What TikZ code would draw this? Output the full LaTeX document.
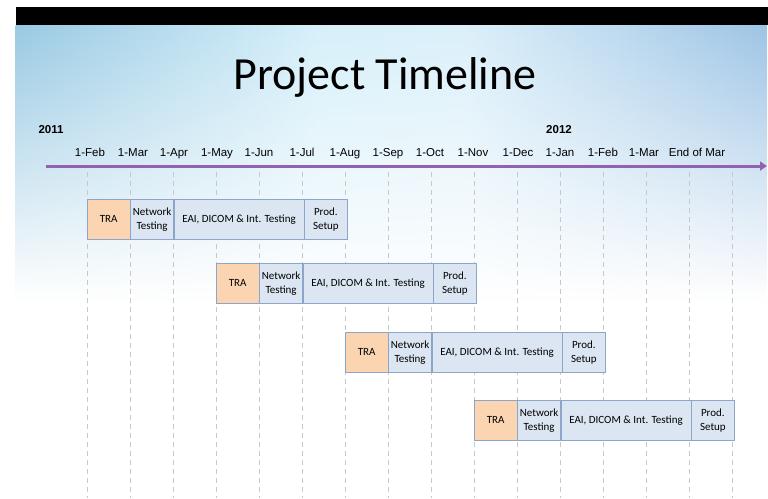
\documentclass[tikz,border=0pt]{standalone}
\usepackage{fontspec}
\setmainfont{Carlito}
\newfontfamily\arialfont{Liberation Sans}
\usepackage{tikz}
\usetikzlibrary{positioning, arrows.meta, fadings}

\definecolor{linepurple}{RGB}{146,98,178}
\definecolor{traorange}{RGB}{251,213,178}
\definecolor{phaseblue}{RGB}{220,230,242}
\definecolor{boxedge}{RGB}{140,165,200}
\definecolor{gridgray}{RGB}{200,200,200}

\pgfdeclarehorizontalshading{sky}{100bp}{
    rgb(0bp)=(0.40,0.62,0.78);
    rgb(25bp)=(0.60,0.79,0.89);
    rgb(45bp)=(0.84,0.94,0.98);
    rgb(55bp)=(0.86,0.94,0.98);
    rgb(75bp)=(0.62,0.77,0.90);
    rgb(100bp)=(0.40,0.54,0.79)}
\tikzfading[name=fade down, top color=transparent!0, middle color=transparent!25, bottom color=transparent!100]

\begin{document}
\begin{tikzpicture}[
    x=1pt, y=-1pt,
    month/.style={font=\arialfont\fontsize{11.5}{13}\selectfont, anchor=base, inner sep=0pt},
    year/.style={font=\arialfont\bfseries\fontsize{11.5}{13}\selectfont, anchor=base, inner sep=0pt},
    phase/.style={rectangle, draw=boxedge, fill=phaseblue, minimum height=40pt, inner sep=0pt,
                  align=center, font=\fontsize{11}{14}\selectfont},
    tra/.style={phase, fill=traorange, minimum width=43pt},
    short/.style={phase, minimum width=43pt},
    long/.style={phase, minimum width=130pt},
    grid line/.style={draw=gridgray, dashed, dash pattern=on 5pt off 4pt, line width=0.6pt},
    timeline/.style={-{Triangle[length=7pt, width=9pt]}, line width=3pt, draw=linepurple}
]
\useasboundingbox (0,0) rectangle (768,498);
\fill[white] (0,0) rectangle (768,498);

% backdrop
\shade[shading=sky, path fading=fade down] (16,25) rectangle (768,300);
\fill[black] (16,7) rectangle (768,25);

\node[font=\fontsize{46}{50}\selectfont, anchor=base] (title) at (385,89) {Project Timeline};

% month grid
\foreach \i in {0,...,15}
    \draw[grid line] (87+43*\i,172) -- (87+43*\i,498);

\node[year] (y2011) at (51,133) {2011};
\node[year] (y2012) at (559,133) {2012};

\node[month] (feb1) at (90,156) {1-Feb};
\node[month] (mar1) at (133,156) {1-Mar};
\node[month] (apr1) at (174,156) {1-Apr};
\node[month] (may1) at (217,156) {1-May};
\node[month] (jun1) at (259,156) {1-Jun};
\node[month] (jul1) at (302,156) {1-Jul};
\node[month] (aug1) at (345,156) {1-Aug};
\node[month] (sep1) at (388,156) {1-Sep};
\node[month] (oct1) at (430,156) {1-Oct};
\node[month] (nov1) at (473,156) {1-Nov};
\node[month] (dec1) at (518,156) {1-Dec};
\node[month] (jan2) at (560,156) {1-Jan};
\node[month] (feb2) at (603,156) {1-Feb};
\node[month] (mar2) at (644,156) {1-Mar};
\node[month] (endmar) at (697,156) {End of Mar};

\coordinate (tstart) at (46,166);
\coordinate (tend) at (767,166);
\draw[timeline] (tstart) -- (tend);

% phases, one row per rollout
\node[tra, anchor=north west] (tra1) at (87,199) {TRA};
\node[short, right=0pt of tra1] (net1) {Network\\Testing};
\node[long, right=0pt of net1] (eai1) {EAI, DICOM \& Int. Testing};
\node[short, right=0pt of eai1] (prod1) {Prod.\\Setup};

\node[tra, anchor=north west] (tra2) at (216,263) {TRA};
\node[short, right=0pt of tra2] (net2) {Network\\Testing};
\node[long, right=0pt of net2] (eai2) {EAI, DICOM \& Int. Testing};
\node[short, right=0pt of eai2] (prod2) {Prod.\\Setup};

\node[tra, anchor=north west] (tra3) at (345,332) {TRA};
\node[short, right=0pt of tra3] (net3) {Network\\Testing};
\node[long, right=0pt of net3] (eai3) {EAI, DICOM \& Int. Testing};
\node[short, right=0pt of eai3] (prod3) {Prod.\\Setup};

\node[tra, anchor=north west] (tra4) at (474,400) {TRA};
\node[short, right=0pt of tra4] (net4) {Network\\Testing};
\node[long, right=0pt of net4] (eai4) {EAI, DICOM \& Int. Testing};
\node[short, right=0pt of eai4] (prod4) {Prod.\\Setup};
\end{tikzpicture}
\end{document}
